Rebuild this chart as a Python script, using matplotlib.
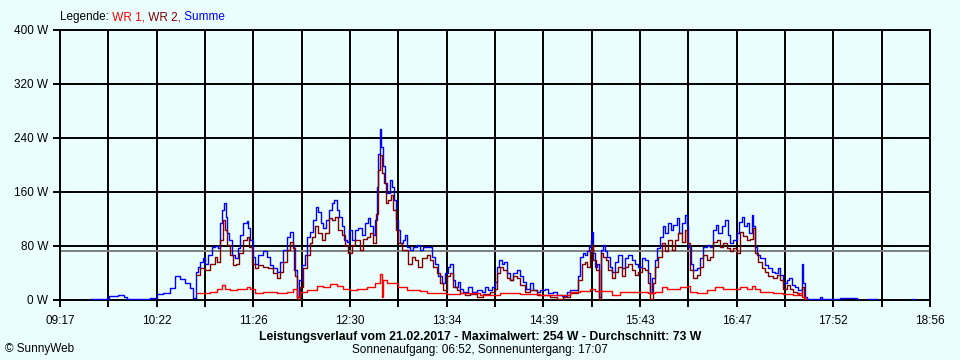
import numpy as np
import matplotlib.pyplot as plt

plt.rcParams['font.family'] = ['Liberation Sans', 'DejaVu Sans']
nan = np.nan

# Zeit in Minuten seit Mitternacht, Leistung in W
summe_t = [577.6, 586.9, 589.6, 595.6, 599.6, 601.6, 606.9, 610.2, 616.9, 621.6, 625.5, 630.2, 633.5, 636.9,
           640.2, 643.5, 645.7, 647.5, 649.0, 650.2, 652.4, 653.5, 655.7, 658.0, 660.2, 662.4, 663.5, 664.6,
           666.1, 667.5, 668.3, 669.7, 671.3, 673.5, 675.7, 676.8, 678.6, 681.3, 682.3, 683.4, 685.2, 686.8,
           689.0, 692.3, 694.6, 696.8, 699.0, 701.2, 703.4, 705.6, 707.9, 710.1, 711.9, 712.9, 714.5, 716.3,
           717.9, 720.1, 721.2, 723.4, 725.6, 727.4, 728.9, 730.5, 732.2, 734.0, 736.2, 737.8, 739.6, 741.2,
           742.9, 744.5, 746.0, 747.8, 749.5, 751.1, 753.3, 755.5, 757.8, 760.0, 762.2, 763.3, 765.1, 766.6,
           767.8, 768.8, 770.0, 770.8, 771.8, 773.3, 774.8, 776.6, 777.8, 779.3, 780.6, 782.1, 783.3, 785.1,
           786.6, 788.1, 789.9, 792.1, 794.4, 796.6, 798.8, 802.1, 804.4, 806.6, 808.8, 811.0, 813.2, 815.0,
           816.6, 818.3, 819.9, 822.1, 823.2, 825.4, 828.7, 831.0, 834.3, 837.6, 839.8, 842.0, 844.3, 846.5,
           847.6, 849.4, 851.0, 852.5, 854.3, 856.5, 858.7, 860.9, 863.1, 864.9, 867.1, 869.8, 872.0, 874.3,
           876.4, 879.8, 882.0, 885.3, 887.6, 890.9, 894.2, 896.4, 899.7, 901.5, 903.1, 904.9, 906.4, 907.9,
           909.3, 910.2, 910.9, 911.9, 913.1, 914.2, 915.7, 916.9, 918.2, 919.7, 921.2, 923.0, 924.2, 926.4,
           928.6, 930.8, 933.0, 935.2, 937.5, 939.7, 941.9, 944.1, 946.3, 948.5, 949.7, 950.8, 953.0, 954.5,
           956.3, 958.1, 959.6, 961.8, 963.4, 965.2, 967.4, 969.2, 970.8, 973.0, 974.1, 975.1, 976.7, 978.5,
           980.7, 982.9, 985.1, 987.4, 989.6, 991.8, 993.6, 995.1, 997.4, 999.6, 1001.4, 1002.9, 1005.1, 1007.4,
           1009.1, 1010.7, 1012.4, 1014.0, 1015.7, 1017.3, 1018.4, 1019.5, 1021.1, 1022.9, 1024.0, 1026.2,
           1028.4, 1030.6, 1032.8, 1035.0, 1036.2, 1038.4, 1040.6, 1042.4, 1044.0, 1046.2, 1048.4, 1050.0,
           1050.8, 1051.7, 1052.8, 1053.9, 1060.6, 1062.8, 1063.9, 1071.6, 1076.1, 1087.2, 1088.1, 1088.2,
           1094.7, 1100.7, 1100.8, 1124.0, 1125.4]
summe = [1, 1, 6, 7, 4, 2, 1, 2, 3, 9, 11, 18, 35, 31,
         25, 18, 3, 42, 49, 57, 62, 54, 67, 79, 80, 77, 114, 133,
         143, 123, 99, 89, 67, 62, 77, 96, 114, 117, 106, 89, 64, 54,
         67, 72, 64, 52, 47, 42, 57, 74, 94, 101, 81, 44, 5, 30,
         52, 67, 94, 101, 119, 138, 131, 114, 106, 119, 133, 143, 148, 133,
         123, 109, 89, 86, 104, 89, 104, 106, 96, 114, 121, 109, 96, 119,
         168, 217, 254, 227, 198, 173, 158, 178, 168, 148, 119, 104, 84, 89,
         96, 79, 74, 79, 81, 74, 79, 79, 64, 54, 35, 25, 40, 49,
         54, 30, 20, 27, 17, 12, 20, 12, 15, 12, 20, 15, 20, 27,
         49, 59, 54, 57, 40, 30, 40, 44, 35, 27, 17, 25, 15, 12,
         15, 17, 10, 12, 7, 6, 12, 15, 15, 35, 64, 69, 67, 72,
         79, 89, 101, 69, 49, 54, 5, 74, 81, 72, 64, 49, 42, 57,
         67, 47, 62, 67, 59, 54, 49, 62, 59, 40, 10, 32, 59, 77,
         94, 109, 99, 114, 104, 111, 121, 99, 114, 126, 109, 79, 54, 44,
         47, 62, 79, 81, 79, 104, 111, 99, 109, 119, 96, 84, 89, 99,
         116, 123, 109, 114, 99, 126, 109, 79, 67, 62, 62, 52,
         47, 42, 40, 47, 37, 25, 30, 32, 22, 20, 15, 15,
         54, 25, 5, 1, 2, 5, 2, 2, 3, 2, 2, nan,
         1, 1, nan, 1, 1]

wr2_t = [647.5, 650.2, 653.5, 656.8, 660.2, 661.3, 663.5, 665.3, 666.8, 668.3, 670.1, 672.3, 674.1, 676.3,
         678.6, 681.3, 683.0, 684.6, 686.8, 689.0, 692.3, 695.6, 699.0, 701.2, 703.4, 705.6, 707.9, 710.1,
         711.9, 713.4, 714.5, 716.7, 718.5, 721.2, 723.4, 724.5, 726.7, 728.9, 731.2, 733.4, 736.2, 737.8,
         740.0, 742.2, 744.5, 746.7, 748.5, 751.1, 753.3, 756.7, 758.9, 761.1, 763.3, 765.5, 767.3, 768.8,
         770.0, 771.1, 772.6, 774.0, 775.5, 777.1, 778.8, 780.6, 782.1, 784.4, 786.6, 788.8, 791.1, 793.3,
         795.5, 797.7, 801.0, 803.2, 805.4, 807.7, 809.9, 812.1, 814.4, 816.6, 818.8, 821.0, 823.2, 826.5,
         829.9, 834.3, 838.7, 843.2, 846.5, 847.6, 849.8, 852.0, 854.3, 856.5, 858.7, 860.9, 863.1, 866.5,
         869.8, 874.3, 878.7, 883.1, 887.6, 892.0, 896.4, 899.7, 901.9, 904.2, 906.4, 907.9, 909.7, 910.9,
         911.9, 913.5, 915.7, 916.9, 918.6, 920.4, 921.9, 924.2, 926.4, 928.6, 930.8, 933.0, 935.2, 937.5,
         939.7, 941.9, 944.1, 946.3, 948.5, 949.7, 951.5, 953.0, 955.2, 957.4, 959.6, 961.8, 964.1, 966.3,
         968.5, 970.8, 973.0, 974.5, 976.3, 978.5, 980.7, 982.9, 985.1, 987.4, 989.6, 991.8, 994.0, 996.2,
         998.4, 1000.7, 1002.9, 1005.1, 1007.4, 1009.5, 1011.7, 1014.0, 1016.2, 1018.0, 1019.5, 1021.7,
         1024.0, 1026.2, 1028.4, 1031.7, 1034.0, 1036.2, 1038.4, 1040.6, 1042.8, 1045.0, 1047.3, 1049.0,
         1050.8, 1052.2, 1053.9]
wr2 = [37, 47, 44, 54, 64, 57, 89, 119, 104, 81, 67, 52, 54, 69,
       89, 94, 79, 54, 47, 52, 49, 47, 40, 32, 42, 57, 74, 86,
       77, 35, 2, 20, 47, 67, 84, 94, 109, 99, 89, 99, 121, 119,
       123, 104, 96, 81, 69, 81, 89, 74, 91, 94, 99, 84, 128, 193,
       215, 188, 173, 143, 148, 156, 133, 104, 84, 74, 74, 54, 64, 59,
       49, 62, 67, 59, 49, 40, 25, 15, 35, 40, 20, 15, 10, 7,
       9, 5, 9, 12, 17, 40, 49, 44, 32, 30, 35, 32, 22, 12,
       15, 7, 7, 5, 2, 4, 10, 10, 30, 54, 57, 49, 74, 81,
       59, 44, 0, 69, 64, 59, 44, 32, 42, 49, 35, 49, 54, 44,
       37, 42, 47, 44, 25, 2, 25, 49, 64, 84, 72, 89, 74, 89,
       99, 86, 104, 84, 44, 32, 37, 49, 67, 59, 64, 86, 89, 79,
       84, 77, 72, 77, 69, 101, 95, 89, 90, 106, 69, 57,
       47, 42, 35, 32, 37, 30, 17, 22, 17, 12, 10, 7,
       20, 2, 0]

wr1_t = [648.0, 656.8, 661.3, 664.6, 666.8, 670.1, 674.6, 679.0, 681.3, 683.4, 686.8, 692.3, 701.2, 707.9,
         712.3, 714.5, 716.7, 721.2, 727.8, 732.2, 736.7, 741.2, 745.5, 750.0, 754.5, 761.1, 766.6, 770.0,
         771.1, 772.2, 774.8, 778.8, 782.1, 787.7, 796.6, 801.0, 809.9, 814.4, 823.2, 836.5, 849.8, 863.1,
         876.4, 889.8, 896.4, 903.1, 909.7, 913.1, 916.4, 924.2, 929.7, 938.5, 948.5, 953.0, 957.4, 960.8,
         965.2, 969.6, 974.1, 976.3, 980.7, 987.4, 992.9, 998.4, 1005.1, 1009.5, 1014.0, 1017.3, 1019.5,
         1022.9, 1031.7, 1038.4, 1045.0, 1048.4, 1050.6, 1052.8]
wr1 = [10, 12, 16, 22, 16, 15, 16, 17, 20, 16, 11, 12, 10, 12,
       17, 5, 12, 15, 21, 20, 24, 21, 17, 15, 17, 20, 25, 39,
       5, 30, 25, 25, 20, 15, 14, 10, 11, 9, 10, 8, 10, 9,
       7, 8, 12, 13, 17, 13, 14, 7, 12, 12, 10, 12, 19, 17,
       17, 19, 21, 12, 10, 15, 19, 17, 16, 20, 17, 21, 16,
       12, 10, 9, 7, 10, 5, 1]

durchschnitt = 73
x_labels = ['09:17', '10:22', '11:26', '12:30', '13:34', '14:39', '15:43', '16:47', '17:52', '18:56']
y_werte = [0, 80, 160, 240, 320, 400]

bg = '#EAFEFE'
fig = plt.figure(figsize=(9.6, 3.6), dpi=100, facecolor=bg)
ax = fig.add_axes([60 / 960, 60 / 360, 870 / 960, 270 / 360])
ax.set_facecolor(bg)

ax.plot(summe_t, summe, color='#0000FF', lw=1.0, drawstyle='steps-post', zorder=3)
ax.plot(wr2_t, wr2, color='#800000', lw=1.0, drawstyle='steps-post', zorder=3)
ax.plot(wr1_t, wr1, color='#FF0000', lw=1.0, drawstyle='steps-post', zorder=3)
ax.axhline(durchschnitt, color='#808080', lw=1.4, zorder=2)

ax.set_xlim(557, 1136)
ax.set_ylim(0, 400)
ticks = np.linspace(557, 1136, 19)
ax.set_xticks(ticks)
ax.set_xticklabels([x_labels[i // 2] if i % 2 == 0 else '' for i in range(19)])
ax.set_yticks(y_werte)
ax.set_yticklabels([f'{v} W' for v in y_werte])
ax.grid(True, color='black', lw=1.4, zorder=1)
ax.tick_params(direction='out', length=5, width=1.4, colors='black', labelsize=8.5)
ax.tick_params(axis='x', pad=6)
for s in ax.spines.values():
    s.set_color('black')
    s.set_linewidth(1.4)

# Legende aus farbigen Textstuecken
fig.canvas.draw()
renderer = fig.canvas.get_renderer()
x = 60
for s, c in [('Legende:', 'black'), (' WR 1,', '#FF0000'), (' WR 2,', '#800000'), (' Summe', '#0000FF')]:
    t = fig.text(x / 960, 1 - 17 / 360, s, color=c, fontsize=8.5, va='center', ha='left')
    x = t.get_window_extent(renderer).x1

fig.text(0.5, 1 - 337 / 360, 'Leistungsverlauf vom 21.02.2017 - Maximalwert: 254 W - Durchschnitt: 73 W',
         ha='center', va='center', fontsize=8.8, fontweight='bold')
fig.text(0.5, 1 - 350 / 360, 'Sonnenaufgang: 06:52, Sonnenuntergang: 17:07', ha='center', va='center', fontsize=8.5)
fig.text(5 / 960, 1 - 349 / 360, '© SunnyWeb', ha='left', va='center', fontsize=8.5)

fig.savefig('out.png', dpi=100, facecolor=bg)
